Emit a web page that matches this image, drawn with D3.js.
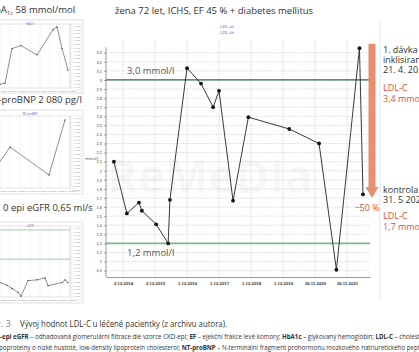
<!DOCTYPE html>
<html>
<head>
<meta charset="utf-8">
<script src="https://cdn.jsdelivr.net/npm/d3@7"></script>
<style>
  body { margin: 0; background: #fff; }
  svg { display: block; font-family: "Open Sans", "Noto Sans", sans-serif; }
</style>
</head>
<body>
<svg id="fig" width="419" height="352"></svg>
<script>
// LDL-C values of the patient (mmol/l)
const ldlDates = ['2014-08-20', '2015-01-15', '2015-06-02', '2015-07-05', '2015-12-15', '2016-04-30',
  '2016-05-20', '2016-12-01', '2017-05-10', '2017-09-25', '2017-12-01', '2018-05-10', '2018-11-01',
  '2020-02-10', '2021-01-15', '2021-08-01', '2022-04-21', '2022-05-31'];
const ldlValues = [2.10, 1.53, 1.65, 1.56, 1.41, 1.20, 1.68, 3.13, 2.96, 2.70, 2.88, 1.67, 2.59,
  2.46, 2.30, 0.91, 3.35, 1.74];

const xTickDates = ['2014-12-02', '2015-12-02', '2016-12-01', '2017-12-01', '2018-12-01',
  '2019-12-01', '2020-11-30', '2021-11-30'];
const xTickLabels = ['2.12.2014', '2.12.2015', '1.12.2016', '1.12.2017', '1.12.2018',
  '1.12.2019', '30.11.2020', '30.11.2021'];
const yTicks = d3.range(9, 34).map(d => d / 10);

const targetValues = [3.0, 1.2];
const targetLabels = ['3,0 mmol/l', '1,2 mmol/l'];
const arrowFrom = 3.4;
const arrowTo = 1.7;

// small charts on the left (years since the start of the record, value)
const hba1cYears = [1.0, 1.5, 2.2, 3.1, 4.7, 6.3, 6.7, 7.2, 7.8];
const hba1cValues = [39.4, 39.8, 52.8, 53.9, 50.4, 59.9, 60.9, 52.8, 44.7];
const bnpYears = [0.6, 2.0, 5.9, 7.5];
const bnpValues = [640, 1250, 400, 2080];
const egfrYears = [1.0, 1.7, 2.2, 2.8, 3.1, 3.8, 4.7, 5.5, 5.8, 7.2, 7.5, 7.8];
const egfrValues = [0.65, 0.58, 0.50, 0.40, 0.30, 0.70, 0.72, 0.77, 0.57, 0.65, 0.72, 0.65];
const egfrLimits = [2.0, 1.25];

const parse = d3.timeParse('%Y-%m-%d');
const svg = d3.select('#fig');

// watermark
svg.append('text')
  .attr('x', 210).attr('y', 193)
  .attr('text-anchor', 'middle')
  .attr('font-size', 46).attr('font-weight', 700)
  .attr('fill', '#000').attr('fill-opacity', 0.045)
  .text('ReMeDIa');

// ---------- main chart ----------
const x = d3.scaleTime()
  .domain([parse('2014-05-22'), parse('2022-08-19')])
  .range([106, 370]);
const y = d3.scaleLinear().domain([0.83, 3.44]).range([277, 40]);

const chart = svg.append('g').attr('class', 'main-chart');

chart.append('g').selectAll('line')
  .data(yTicks)
  .join('line')
  .attr('x1', x.range()[0]).attr('x2', x.range()[1])
  .attr('y1', d => y(d)).attr('y2', d => y(d))
  .attr('stroke', '#b5b5b5').attr('stroke-width', 0.6).attr('stroke-dasharray', '1,1.2');

chart.append('g').selectAll('line')
  .data(xTickDates.map(parse))
  .join('line')
  .attr('x1', d => x(d)).attr('x2', d => x(d))
  .attr('y1', y.range()[1]).attr('y2', y.range()[0])
  .attr('stroke', '#b5b5b5').attr('stroke-width', 0.6).attr('stroke-dasharray', '1,1.2');

// target lines
chart.append('g').selectAll('line')
  .data(targetValues)
  .join('line')
  .attr('x1', x.range()[0]).attr('x2', x.range()[1])
  .attr('y1', d => y(d)).attr('y2', d => y(d))
  .attr('stroke', (d, i) => i === 0 ? '#2f6b3c' : '#7db88d')
  .attr('stroke-width', (d, i) => i === 0 ? 1.3 : 1.6);

// upper label sits above its line, lower label below
chart.append('g').selectAll('text')
  .data(targetValues)
  .join('text')
  .attr('x', 127).attr('y', (d, i) => i === 0 ? y(d) - 6 : y(d) + 13)
  .attr('font-size', 9.5).attr('fill', '#555')
  .text((d, i) => targetLabels[i]);

// axes
const yAxis = d3.axisLeft(y)
  .tickValues(yTicks)
  .tickSize(2).tickSizeOuter(0)
  .tickFormat(d => String(+d.toFixed(1)).replace('.', ','));
const yAxisG = chart.append('g').attr('transform', `translate(${x.range()[0]},0)`).call(yAxis);
yAxisG.select('.domain').remove();
yAxisG.selectAll('line').attr('stroke', '#555').attr('stroke-width', 0.5);
yAxisG.selectAll('text').attr('font-size', 4).attr('fill', '#444').attr('dx', 1);
chart.append('line')
  .attr('x1', x.range()[0]).attr('x2', x.range()[0])
  .attr('y1', y(3.36)).attr('y2', y.range()[0])
  .attr('stroke', '#555').attr('stroke-width', 0.6);

const xAxis = d3.axisBottom(x)
  .tickValues(xTickDates.map(parse))
  .tickSize(0).tickPadding(5)
  .tickFormat((d, i) => xTickLabels[i]);
const xAxisG = chart.append('g').attr('transform', `translate(0,${y.range()[0]})`).call(xAxis);
xAxisG.select('.domain').attr('stroke', '#555').attr('stroke-width', 0.6);
xAxisG.selectAll('text').attr('font-size', 4.3).attr('fill', '#333').attr('font-weight', 600);

chart.append('text')
  .attr('x', 85).attr('y', y(2.12))
  .attr('font-size', 4).attr('fill', '#444')
  .text('mmol/l');

chart.append('g').selectAll('text')
  .data(['LDL-ch', 'LDL-ch'])
  .join('text')
  .attr('x', 227).attr('y', (d, i) => 28 + i * 6)
  .attr('text-anchor', 'middle')
  .attr('font-size', 4.3).attr('fill', '#4a4aa8')
  .text(d => d);

// LDL-C series
const points = ldlDates.map((d, i) => ({ date: parse(d), value: ldlValues[i] }));
const line = d3.line().x(d => x(d.date)).y(d => y(d.value));
chart.append('path')
  .datum(points)
  .attr('d', line)
  .attr('fill', 'none').attr('stroke', '#222').attr('stroke-width', 0.9);
chart.append('g').selectAll('circle')
  .data(points)
  .join('circle')
  .attr('cx', d => x(d.date)).attr('cy', d => y(d.value))
  .attr('r', 1.9).attr('fill', '#111');

// orange arrow showing the drop
const ax = 372, bodyW = 7, headW = 13, headL = 11;
const arrowTop = y(arrowFrom), arrowTip = y(arrowTo);
chart.append('path')
  .attr('d', `M${ax - bodyW / 2},${arrowTop}H${ax + bodyW / 2}V${arrowTip - headL}` +
    `H${ax + headW / 2}L${ax},${arrowTip}L${ax - headW / 2},${arrowTip - headL}H${ax - bodyW / 2}Z`)
  .attr('fill', '#e8906e');
chart.append('text')
  .attr('x', 367).attr('y', arrowTip + 13)
  .attr('text-anchor', 'middle')
  .attr('font-size', 9).attr('fill', '#e0503c')
  .text('−50 %');

// title
svg.append('text')
  .attr('x', 115).attr('y', 14)
  .attr('font-size', 9.5).attr('fill', '#333')
  .text('žena 72 let, ICHS, EF 45 % + diabetes mellitus');

// separator and notes on the right
svg.append('line')
  .attr('x1', 380).attr('x2', 380).attr('y1', 22).attr('y2', 300)
  .attr('stroke', '#dcdcdc').attr('stroke-width', 0.8);

const notes = [
  { t: '1. dávka', y: 53, c: '#333' },
  { t: 'inklisiranu', y: 63, c: '#333' },
  { t: '21. 4. 2022', y: 73, c: '#333' },
  { t: 'LDL-C', y: 91, c: '#e0503c' },
  { t: '3,4 mmol/l', y: 102, c: '#e0503c' },
  { t: 'kontrola', y: 193, c: '#333' },
  { t: '31. 5 2022', y: 203, c: '#333' },
  { t: 'LDL-C', y: 219, c: '#e0503c' },
  { t: '1,7 mmol/l', y: 230, c: '#e0503c' }
];
svg.append('g').selectAll('text')
  .data(notes)
  .join('text')
  .attr('x', 383).attr('y', d => d.y)
  .attr('font-size', 9).attr('fill', d => d.c)
  .text(d => d.t);

// ---------- small charts ----------
function drawThumb(cfg) {
  const g = svg.append('g');
  const tx = d3.scaleLinear().domain([0, 8]).range([-10, 70]);
  const ty = d3.scaleLinear().domain(cfg.domain).range([cfg.plotBottom, cfg.plotTop]);

  g.append('rect')
    .attr('x', -5).attr('y', cfg.top).attr('width', 88).attr('height', cfg.bottom - cfg.top)
    .attr('fill', '#fff').attr('stroke', '#c9c9c9').attr('stroke-width', 0.6);
  g.append('rect')
    .attr('x', -5).attr('y', cfg.plotTop).attr('width', 75).attr('height', cfg.plotBottom - cfg.plotTop)
    .attr('fill', 'none').attr('stroke', '#bbb').attr('stroke-width', 0.4);

  g.append('g').selectAll('line')
    .data(d3.range(1, 9))
    .join('line')
    .attr('x1', d => tx(d)).attr('x2', d => tx(d))
    .attr('y1', cfg.plotTop).attr('y2', cfg.plotBottom)
    .attr('stroke', '#c4c4c4').attr('stroke-width', 0.4).attr('stroke-dasharray', '0.8,0.8');

  (cfg.limits || []).forEach(v => {
    g.append('line')
      .attr('x1', -5).attr('x2', 70).attr('y1', ty(v)).attr('y2', ty(v))
      .attr('stroke', '#7db88d').attr('stroke-width', 0.7);
  });

  g.append('g').selectAll('text')
    .data(d3.range(1, 9))
    .join('text')
    .attr('x', d => tx(d) - 4).attr('y', cfg.plotBottom + 3.5)
    .attr('font-size', 2.2).attr('fill', '#777')
    .text('1.12.2016');

  // legend column
  const rows = d3.range(cfg.plotTop + 2, cfg.bottom - 3, 3.6);
  g.append('rect')
    .attr('x', 71).attr('y', cfg.plotTop).attr('width', 10).attr('height', cfg.bottom - cfg.plotTop - 3)
    .attr('fill', 'none').attr('stroke', '#ccc').attr('stroke-width', 0.4);
  g.append('g').selectAll('text')
    .data(rows)
    .join('text')
    .attr('x', 72.5).attr('y', d => d + 1)
    .attr('font-size', 2.2).attr('fill', '#888')
    .text('1.12.20');

  g.append('text')
    .attr('x', 30).attr('y', cfg.top + 4.5)
    .attr('text-anchor', 'middle')
    .attr('font-size', 2.8).attr('fill', '#5a5ac0')
    .text(cfg.title);

  const pts = cfg.years.map((t, i) => [tx(t), ty(cfg.values[i])]);
  g.append('path')
    .attr('d', d3.line()(pts))
    .attr('fill', 'none').attr('stroke', '#444').attr('stroke-width', 0.6);
  g.append('g').selectAll('circle')
    .data(pts)
    .join('circle')
    .attr('cx', d => d[0]).attr('cy', d => d[1])
    .attr('r', 0.6).attr('fill', '#222');

  const label = g.append('text')
    .attr('x', cfg.labelX).attr('y', cfg.labelY)
    .attr('font-size', 9.5).attr('fill', '#333');
  cfg.label.forEach(part => {
    label.append('tspan')
      .attr('font-size', part.sub ? 6 : 9.5)
      .attr('dy', part.sub ? 2 : (part.after ? -2 : 0))
      .text(part.t);
  });
}

drawThumb({
  top: 20, bottom: 93, plotTop: 24, plotBottom: 88, domain: [38, 62],
  years: hba1cYears, values: hba1cValues, title: 'HbA1c',
  labelX: -12, labelY: 13,
  label: [{ t: 'HbA' }, { t: '1c', sub: true }, { t: ' 58 mmol/mol', after: true }]
});
drawThumb({
  top: 110, bottom: 194, plotTop: 116, plotBottom: 188, domain: [0, 2200],
  years: bnpYears, values: bnpValues, title: 'NT-proBNP',
  labelX: -14, labelY: 103,
  label: [{ t: 'NT-proBNP 2 080 pg/l' }]
});
drawThumb({
  top: 222, bottom: 303, plotTop: 226, plotBottom: 297, domain: [0.28, 2.1],
  years: egfrYears, values: egfrValues, title: 'eGFR', limits: egfrLimits,
  labelX: 3, labelY: 211,
  label: [{ t: '0 epi eGFR 0,65 ml/s' }]
});

// ---------- caption ----------
svg.append('text')
  .attr('x', 11).attr('y', 327)
  .attr('text-anchor', 'end')
  .attr('font-size', 9.5).attr('fill', '#888')
  .text('Obr. 3');
svg.append('text')
  .attr('x', 20).attr('y', 327)
  .attr('font-size', 9.5).attr('fill', '#333')
  .attr('textLength', 207).attr('lengthAdjust', 'spacingAndGlyphs')
  .text('Vývoj hodnot LDL-C u léčené pacientky (z archivu autora).');

const foot1 = [
  { t: '-epi eGFR', b: true }, { t: ' – odhadovaná glomerulární filtrace dle vzorce CKD-epi; ' },
  { t: 'EF', b: true }, { t: ' – ejekční frakce levé komory; ' },
  { t: 'HbA1c', b: true }, { t: ' – glykovaný hemoglobin; ' },
  { t: 'LDL-C', b: true }, { t: ' – cholest' }
];
const foot2 = [
  { t: 'poproteiny o nízké hustotě, low-density lipoprotein cholesterol; ' },
  { t: 'NT-proBNP', b: true }, { t: ' – N-terminální fragment prohormonu mozkového natriuretického pept' }
];
[[foot1, 339, 0], [foot2, 350, -1]].forEach(([parts, yy, xx]) => {
  const t = svg.append('text')
    .attr('x', xx).attr('y', yy)
    .attr('font-size', 6.4).attr('fill', '#333')
    .attr('textLength', 420 - xx).attr('lengthAdjust', 'spacingAndGlyphs');
  parts.forEach(p => t.append('tspan').attr('font-weight', p.b ? 700 : 400).text(p.t));
});
</script>
</body>
</html>
